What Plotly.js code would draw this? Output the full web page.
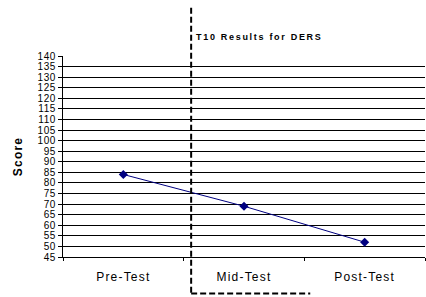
<!DOCTYPE html>
<html>
<head>
<meta charset="utf-8">
<script src="https://cdn.plot.ly/plotly-3.0.1.min.js"></script>
<style>
  html, body { margin: 0; padding: 0; background: #fff; }
  #chart { width: 426px; height: 297px; }
  .gtitle { letter-spacing: 1.7px; }
  .xtick text { letter-spacing: 1.2px; }
  .ytick text { letter-spacing: 0.6px; }
  .ytitle { letter-spacing: 1.2px; }
</style>
</head>
<body>
<div id="chart"></div>
<script>
const categories = ["Pre-Test", "Mid-Test", "Post-Test"];
const scores = [84, 69, 52];
const yTickValues = [45, 50, 55, 60, 65, 70, 75, 80, 85, 90, 95, 100, 105, 110, 115, 120, 125, 130, 135, 140];
const chartTitle = "T10 Results for DERS";
const yAxisTitle = "Score";

const trace = {
  x: categories,
  y: scores,
  type: "scatter",
  mode: "lines+markers",
  line: { color: "#000080", width: 1 },
  marker: { symbol: "diamond", size: 7, color: "#000080" },
  hoverinfo: "skip",
  showlegend: false
};

const layout = {
  width: 426,
  height: 297,
  margin: { l: 63, r: 1, t: 56, b: 40 },
  paper_bgcolor: "#ffffff",
  plot_bgcolor: "#ffffff",
  font: { family: "Arial, 'Liberation Sans', sans-serif", color: "#000" },
  title: {
    text: chartTitle,
    font: { size: 9, weight: "bold", family: "Arial, 'Liberation Sans', sans-serif", color: "#000" },
    xref: "container", x: 196 / 426, xanchor: "left",
    yref: "container", y: 1 - 37 / 297, yanchor: "middle"
  },
  xaxis: {
    type: "category",
    range: [-0.5, 2.5],
    tickson: "boundaries",
    ticks: "outside",
    ticklen: 3,
    tickcolor: "#000",
    showline: true,
    linecolor: "#000",
    linewidth: 1,
    showgrid: false,
    zeroline: false,
    tickfont: { size: 12, color: "#000" },
    ticklabelstandoff: 9,
    fixedrange: true
  },
  yaxis: {
    range: [45, 140],
    tickvals: yTickValues,
    ticktext: yTickValues.map(String),
    ticks: "outside",
    ticklen: 4,
    tickcolor: "#000",
    showline: true,
    linecolor: "#000",
    linewidth: 1,
    showgrid: true,
    gridcolor: "#000",
    gridwidth: 1,
    zeroline: false,
    tickfont: { size: 10, color: "#000" },
    title: {
      text: yAxisTitle,
      font: { size: 12, weight: "bold", color: "#000" },
      standoff: 12
    },
    fixedrange: true
  },
  shapes: [
    {
      type: "line", xref: "paper", yref: "paper",
      x0: 0.354, x1: 0.354, y0: 1.24, y1: -0.182,
      line: { color: "#000", width: 2, dash: "6px,3px" }
    },
    {
      type: "line", xref: "paper", yref: "paper",
      x0: 0.354, x1: 0.683, y0: -0.182, y1: -0.182,
      line: { color: "#000", width: 2, dash: "6px,3px" }
    }
  ]
};

Plotly.newPlot("chart", [trace], layout, { staticPlot: true, displayModeBar: false });
</script>
</body>
</html>
